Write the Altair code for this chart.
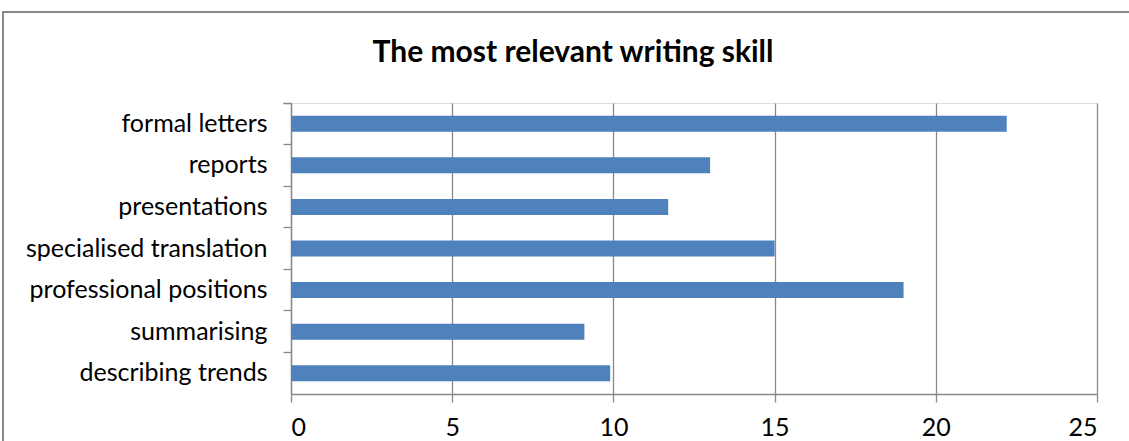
import altair as alt
import pandas as pd

categories = [
    "formal letters",
    "reports",
    "presentations",
    "specialised translation",
    "professional positions",
    "summarising",
    "describing trends",
]
values = [22.2, 13, 11.7, 15, 19, 9.1, 9.9]
x_ticks = [0, 5, 10, 15, 20, 25]

df = pd.DataFrame({"skill": categories, "count": values})

GRAY = "#898989"
FONT = "Lato"

bars = alt.Chart(df).mark_bar(color="#4F81BD", size=16).encode(
    x=alt.X(
        "count:Q",
        scale=alt.Scale(domain=[0, 25], nice=False),
        axis=alt.Axis(
            values=x_ticks,
            title=None,
            grid=True,
            gridColor=GRAY,
            gridWidth=1.3,
            domainColor=GRAY,
            domainWidth=1.3,
            tickColor=GRAY,
            tickWidth=1.3,
            tickSize=8,
            labelFont=FONT,
            labelFontSize=25,
            labelColor="#000000",
            labelPadding=13,
        ),
    ),
    y=alt.Y(
        "skill:N",
        sort=categories,
        scale=alt.Scale(paddingInner=0, paddingOuter=0),
        axis=alt.Axis(
            title=None,
            bandPosition=0,
            tickExtra=True,
            domainColor=GRAY,
            domainWidth=1.3,
            tickColor=GRAY,
            tickWidth=1.3,
            tickSize=8,
            labelFont=FONT,
            labelFontSize=25,
            labelColor="#000000",
            labelPadding=16,
            labelLimit=400,
        ),
    ),
)

frame = alt.Chart(alt.Data(values=[{"a": 1}])).mark_rect(
    filled=False, stroke=GRAY, strokeWidth=2
).encode(
    x=alt.value(-288),
    x2=alt.value(900),
    y=alt.value(-91),
    y2=alt.value(400),
)

chart = (
    alt.layer(frame, bars)
    .properties(
        width=806,
        height=291,
        autosize=alt.AutoSizeParams(type="none"),
        padding={"left": 291, "top": 103, "right": 32, "bottom": 47},
        title=alt.TitleParams(
            "The most relevant writing skill",
            font=FONT,
            fontSize=30,
            fontWeight="bold",
            color="#000000",
            anchor="middle",
            dx=-121,
            baseline="alphabetic",
            offset=-81,
        ),
    )
    .configure_view(stroke=None)
    .configure(background="white")
)

chart.save("out.html", embed_options={"renderer": "svg", "actions": False})
